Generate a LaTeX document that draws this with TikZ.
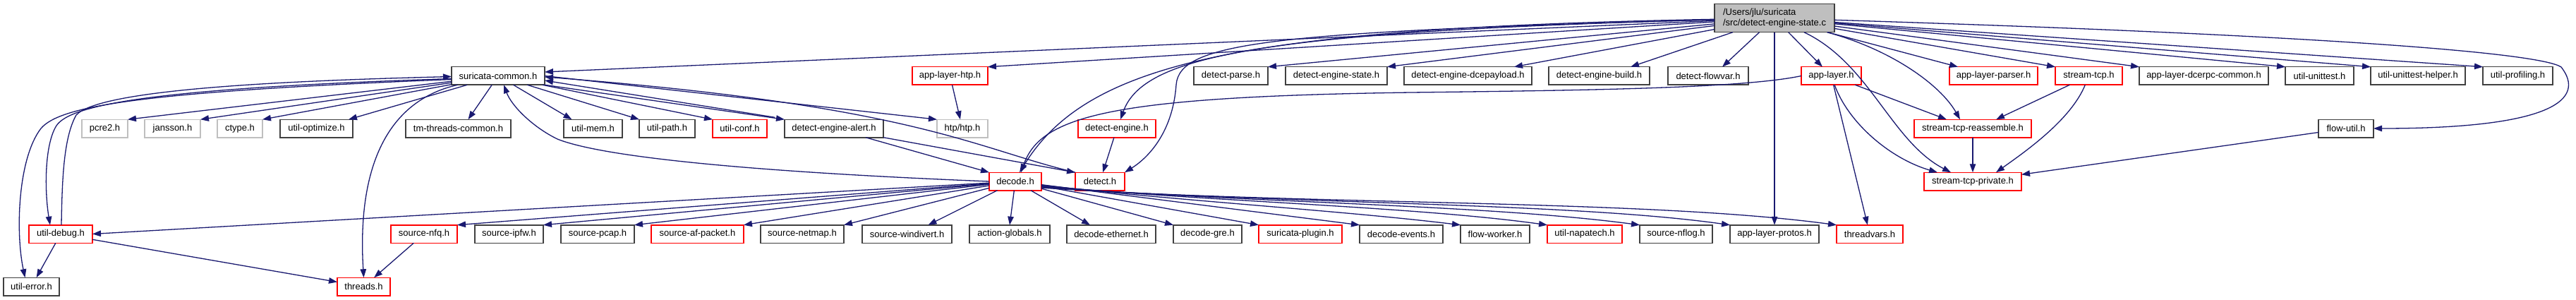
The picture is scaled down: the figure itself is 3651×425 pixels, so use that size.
\documentclass[tikz,border=0pt]{standalone}
\usepackage{fontspec}
\setmainfont{Liberation Sans}
\usetikzlibrary{arrows.meta,calc}
\definecolor{edgecol}{HTML}{191970}
\definecolor{boxblack}{HTML}{404040}
\definecolor{boxgray}{HTML}{BFBFBF}
\definecolor{boxred}{HTML}{FF0000}
\begin{document}
\begin{tikzpicture}[x=1pt,y=-1pt,
  font=\fontsize{13}{15.5}\selectfont,
  bx/.style={draw=boxblack, fill=white, line width=1.5pt, minimum height=25.5pt, inner sep=0pt, outer sep=0pt},
  rbx/.style={bx, draw=boxred},
  gbx/.style={bx, draw=boxgray},
  bw/.style={minimum width=#1pt},
  ed/.style={draw=edgecol, line width=1.3pt, -{Triangle[length=12pt,width=8.5pt]}}]
\fill[white] (0,0) rectangle (3651,425);
\useasboundingbox (0,0) rectangle (3651,425);

% main node
\node[bx, bw=170, fill=boxgray, minimum height=40pt, align=left] (main) at (2515,25.7) {/Users/jlu/suricata\\/src/detect-engine-state.c};

% row 1
\node[bx, bw=132] (sc) at (706,107.5) {suricata-common.h};
\node[rbx, bw=107] (alhtp) at (1346.5,107.5) {app-layer-htp.h};
\node[bx, bw=105] (dparse) at (1744.5,107.5) {detect-parse.h};
\node[bx, bw=144] (destate) at (1894,107.5) {detect-engine-state.h};
\node[bx, bw=181] (dcepay) at (2080.5,107.5) {detect-engine-dcepayload.h};
\node[bx, bw=143] (debuild) at (2266.5,107.5) {detect-engine-build.h};
\node[bx, bw=114] (dflowvar) at (2421,107.5) {detect-flowvar.h};
\node[rbx, bw=85] (applayer) at (2595.5,107.5) {app-layer.h};
\node[rbx, bw=125] (alparser) at (2825.5,107.5) {app-layer-parser.h};
\node[rbx, bw=95] (stcp) at (2960.5,107.5) {stream-tcp.h};
\node[bx, bw=183] (dcerpc) at (3123.5,107.5) {app-layer-dcerpc-common.h};
\node[bx, bw=97] (unittest) at (3287.5,107.5) {util-unittest.h};
\node[bx, bw=134] (uthelper) at (3427,107.5) {util-unittest-helper.h};
\node[bx, bw=99] (profiling) at (3568.5,107.5) {util-profiling.h};

% row 2
\node[gbx, bw=65] (pcre2) at (148.5,182) {pcre2.h};
\node[gbx, bw=79] (jansson) at (244.5,182) {jansson.h};
\node[gbx, bw=64] (ctype) at (340,182) {ctype.h};
\node[bx, bw=103] (utilopt) at (448.5,182) {util-optimize.h};
\node[bx, bw=149] (tmthreads) at (649.5,182) {tm-threads-common.h};
\node[bx, bw=83] (utilmem) at (840.5,182) {util-mem.h};
\node[bx, bw=79] (utilpath) at (945.5,182) {util-path.h};
\node[rbx, bw=77] (utilconf) at (1048.5,182) {util-conf.h};
\node[bx, bw=140] (dea) at (1182,182) {detect-engine-alert.h};
\node[gbx, bw=72] (htp) at (1364,182) {htp/htp.h};
\node[rbx, bw=110] (deteng) at (1583,182) {detect-engine.h};
\node[rbx, bw=166] (streasm) at (2796,182) {stream-tcp-reassemble.h};
\node[bx, bw=78] (flowutil) at (3325,182) {flow-util.h};

% row 3
\node[rbx, bw=74] (decode) at (1439,257) {decode.h};
\node[rbx, bw=70] (detect) at (1559,257) {detect.h};
\node[rbx, bw=138] (stpriv) at (2796,257) {stream-tcp-private.h};

% row 4
\node[rbx, bw=90] (utildebug) at (86,331.5) {util-debug.h};
\node[rbx, bw=94] (srcnfq) at (601,331.5) {source-nfq.h};
\node[bx, bw=97] (srcipfw) at (721.5,331.5) {source-ipfw.h};
\node[bx, bw=104] (srcpcap) at (847,331.5) {source-pcap.h};
\node[rbx, bw=131] (srcaf) at (988.5,331.5) {source-af-packet.h};
\node[bx, bw=118] (srcnetmap) at (1137,331.5) {source-netmap.h};
\node[bx, bw=127] (srcwindivert) at (1285.5,331.5) {source-windivert.h};
\node[bx, bw=114] (actglob) at (1431,331.5) {action-globals.h};
\node[bx, bw=126] (decether) at (1575,331.5) {decode-ethernet.h};
\node[bx, bw=97] (decgre) at (1711.5,331.5) {decode-gre.h};
\node[rbx, bw=118] (suriplugin) at (1843,331.5) {suricata-plugin.h};
\node[bx, bw=118] (decevents) at (1986,331.5) {decode-events.h};
\node[bx, bw=98] (flowworker) at (2119,331.5) {flow-worker.h};
\node[rbx, bw=106] (napatech) at (2246,331.5) {util-napatech.h};
\node[bx, bw=103] (srcnflog) at (2375.5,331.5) {source-nflog.h};
\node[bx, bw=126] (alprotos) at (2515,331.5) {app-layer-protos.h};
\node[rbx, bw=94] (threadvars) at (2650,331.5) {threadvars.h};

% row 5
\node[bx, bw=79] (utilerror) at (44.5,406) {util-error.h};
\node[rbx, bw=75] (threads) at (515.5,406) {threads.h};

% ---- edges from main
\draw[ed] (main) -- ($(sc.east)+(0,-5.5)$);
\draw[ed] (main) -- (alhtp.north east);
\draw[ed] (main) .. controls (1750,40) and (1540,90) .. ($(decode.north)+(6,0)$);
\draw[ed] (main) .. controls (1780,45) and (1620,80) .. ($(deteng.north)+(5,0)$);
\draw[ed] (main) .. controls (1800,45) and (1672,60) .. (1667,120) .. controls (1662,190) and (1625,225) .. (detect.north east);
\draw[ed] (main) -- (dparse.north east);
\draw[ed] (main) -- (destate.north east);
\draw[ed] (main) -- ($(dcepay.north east)+(-25,0)$);
\draw[ed] (main) -- ($(debuild.north east)+(-27,0)$);
\draw[ed] (main) -- ($(dflowvar.north)+(20,0)$);
\draw[ed] (main) -- (applayer);
\draw[ed] (main) -- (alprotos);
\draw[ed] (main) .. controls (2650,90) and (2680,200) .. ($(stpriv.north)+(-31,0)$);
\draw[ed] (main) .. controls (2680,70) and (2750,120) .. ($(streasm.north)+(-18,0)$);
\draw[ed] (main) -- ($(alparser.north west)+(12,0)$);
\draw[ed] (main) -- (stcp.north west);
\draw[ed] (main) -- (dcerpc.north west);
\draw[ed] (main) -- (unittest.north west);
\draw[ed] (main) -- (uthelper.north west);
\draw[ed] (main) -- (profiling.north west);
\draw[ed] (main) .. controls (3300,50) and (3600,75) .. (3630,95) .. controls (3665,140) and (3620,182) .. (flowutil.east);

% ---- edges from suricata-common
\draw[ed] (sc) -- (pcre2.north east);
\draw[ed] (sc) -- (jansson.north east);
\draw[ed] (sc) -- (ctype.north east);
\draw[ed] (sc) -- ($(utilopt.north east)+(-6,0)$);
\draw[ed] (sc) -- ($(tmthreads.north)+(14,0)$);
\draw[ed] (sc) -- ($(utilmem.north)+(-30,0)$);
\draw[ed] (sc) -- (utilpath.north west);
\draw[ed] (sc) -- (utilconf.north west);
\draw[ed] (sc.south east) -- (dea.north west);
\draw[ed] ($(dea.north west)+(-14,-3)$) -- ($(sc.east)+(0,6.5)$);
\draw[ed] (sc.east) -- (htp.north west);
\draw[ed] ($(sc.west)+(0,5)$) .. controls (200,130) and (85,150) .. (58,182) .. controls (25,225) and (22,330) .. ($(utilerror.north)+(-9,0)$);
\draw[ed] ($(sc.west)+(0,4)$) .. controls (220,125) and (100,148) .. (80,178) .. controls (63,205) and (63,270) .. ($(utildebug.north)+(-15,0)$);
\draw[ed] ($(utildebug.north)+(1,0)$) .. controls (88,255) and (90,195) .. (108,163) .. controls (140,128) and (380,115) .. ($(sc.west)+(0,1)$);
\draw[ed] (sc) .. controls (560,140) and (505,220) .. (threads.north);

% ---- other edges
\draw[ed] (dea) -- (decode.north west);
\draw[ed] (dea) -- (detect.north west);
\draw[ed] (detect.north west) .. controls (1380,210) and (1300,150) .. ($(sc.east)+(0,1.5)$);
\draw[ed] (decode.west) .. controls (1100,245) and (860,225) .. (790,197) .. controls (755,180) and (725,150) .. ($(sc.south)+(8,0)$);
\draw[ed] (alhtp) -- (htp);
\draw[ed] (deteng) -- (detect);
\draw[ed] (applayer.west) .. controls (2470,125) and (2250,128) .. (2000,131) .. controls (1570,137) and (1475,165) .. ($(decode.north)+(8,0)$);
\draw[ed] (applayer) -- ($(streasm.north)+(-37,0)$);
\draw[ed] (applayer) .. controls (2620,175) and (2680,225) .. ($(stpriv.north)+(-50,0)$);
\draw[ed] (applayer) -- (threadvars);
\draw[ed] (stcp) -- ($(streasm.north)+(33,0)$);
\draw[ed] (stcp) .. controls (2935,170) and (2870,215) .. ($(stpriv.north)+(33,0)$);
\draw[ed] (streasm) -- (stpriv);
\draw[ed] (flowutil) -- (stpriv);
\draw[ed] (utildebug) -- (utilerror);
\draw[ed] (utildebug) -- (threads);
\draw[ed] (srcnfq) -- (threads);

% ---- edges from decode
\draw[ed] (decode) -- (utildebug.east);
\draw[ed] (decode) -- (srcnfq.north east);
\draw[ed] (decode) -- (srcipfw.north east);
\draw[ed] (decode) -- (srcpcap.north east);
\draw[ed] (decode) -- (srcaf.north east);
\draw[ed] (decode) -- (srcnetmap.north east);
\draw[ed] (decode) -- ($(srcwindivert.north)+(30,0)$);
\draw[ed] (decode) -- (actglob.north);
\draw[ed] (decode) -- ($(decether.north)+(-30,0)$);
\draw[ed] (decode) -- (decgre.north west);
\draw[ed] (decode) -- (suriplugin.north west);
\draw[ed] (decode) -- (decevents.north west);
\draw[ed] ($(decode.east)+(0,5)$) .. controls (1650,283) and (1900,298) .. (flowworker.north west);
\draw[ed] ($(decode.east)+(0,6)$) .. controls (1700,285) and (2000,292) .. (napatech.north west);
\draw[ed] ($(decode.east)+(0,7)$) .. controls (1750,287) and (2100,289) .. (srcnflog.north west);
\draw[ed] ($(decode.east)+(0,8)$) .. controls (1800,289) and (2220,286) .. (alprotos.north west);
\draw[ed] ($(decode.east)+(0,9)$) .. controls (1850,291) and (2330,282) .. (threadvars.north west);
\end{tikzpicture}
\end{document}
